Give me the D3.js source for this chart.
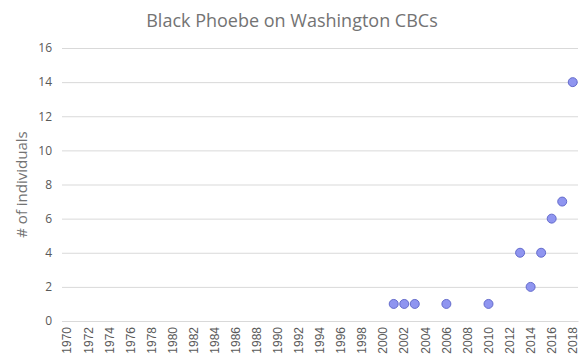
<!DOCTYPE html>
<html><head><meta charset="utf-8">
<script src="https://cdn.jsdelivr.net/npm/d3@7"></script>
<style>body{margin:0;background:#fff}</style>
</head><body>
<svg id="c" width="584" height="362"></svg>
<script>
const years = d3.range(1970, 2019);
const obsYears = [2001, 2002, 2003, 2006, 2010, 2013, 2014, 2015, 2016, 2017, 2018];
const counts   = [1, 1, 1, 1, 1, 4, 2, 4, 6, 7, 14];
const yTicks = [0, 2, 4, 6, 8, 10, 12, 14, 16];
const xTickLabels = years.filter(y => y % 2 === 0);

const svg = d3.select("#c");
const W = 584, H = 362;
const m = {left: 62, right: 6, top: 48, bottom: 41};
const x = d3.scaleBand().domain(years).range([m.left, W - m.right]);
const y = d3.scaleLinear().domain([0, 16]).range([H - m.bottom, m.top]);
const txt = "#595959", grid = "#d9d9d9";

svg.append("text").attr("x", 292).attr("y", 27).attr("text-anchor", "middle")
  .attr("font-family", "Open Sans, sans-serif").attr("font-size", 18).attr("fill", "#737373")
  .text("Black Phoebe on Washington CBCs");

const ya = svg.append("g").attr("transform", `translate(${m.left},0)`)
  .call(d3.axisLeft(y).tickValues(yTicks).tickSize(-(W - m.left - m.right)).tickPadding(10));
ya.select(".domain").remove();
ya.selectAll("line").attr("stroke", grid);
ya.selectAll("text").attr("fill", txt).attr("font-size", 12).attr("font-family", "Open Sans, sans-serif");

const xa = svg.append("g").attr("transform", `translate(0,${H - m.bottom})`)
  .call(d3.axisBottom(x).tickValues(xTickLabels).tickSize(0).tickPadding(0));
xa.select(".domain").attr("stroke", grid);
xa.selectAll(".tick text").attr("fill", txt).attr("font-size", 12)
  .attr("font-family", "Liberation Sans, Arial, sans-serif")
  .attr("transform", "rotate(-90)").attr("text-anchor", "end")
  .attr("x", -6).attr("y", 0).attr("dy", "0.35em");

svg.append("text").attr("transform", `translate(27,${(y(0)+y(16))/2}) rotate(-90)`)
  .attr("text-anchor", "middle").attr("font-family", "Open Sans, sans-serif")
  .attr("font-size", 15).attr("fill", "#737373").text("# of individuals");

svg.append("g").selectAll("circle").data(obsYears).join("circle")
  .attr("cx", d => x(d) + x.bandwidth() / 2)
  .attr("cy", (d, i) => y(counts[i]))
  .attr("r", 4.5)
  .attr("fill", "#8f95f0").attr("stroke", "#5a62c6").attr("stroke-width", 0.9);
</script>
</body></html>
